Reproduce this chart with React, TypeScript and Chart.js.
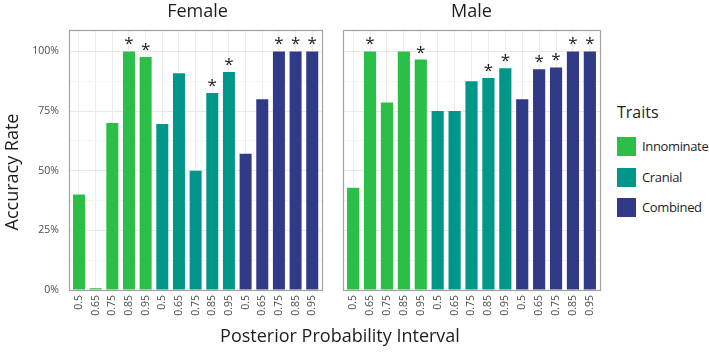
import React, { useEffect, useRef } from "react";
import { Chart, registerables } from "chart.js";

Chart.register(...registerables);

// Posterior probability intervals, repeated for each trait group
const intervals = ["0.5", "0.65", "0.75", "0.85", "0.95"];
const traits = ["Innominate", "Cranial", "Combined"];
const traitColors = ["#2cbf47", "#01968a", "#303a86"];

// Accuracy rate (%) per bar: Innominate x5, Cranial x5, Combined x5
const femaleAccuracy = [40.0, 0.7, 70.0, 100, 97.7, 69.6, 90.9, 50.0, 82.6, 91.4, 57.1, 80.0, 100, 100, 100];
const maleAccuracy = [42.9, 100, 78.6, 100, 96.6, 75.0, 75.0, 87.5, 88.9, 93.0, 80.0, 92.5, 93.3, 100, 100];

// Bars flagged with an asterisk
const femaleSignificant = [false, false, false, true, true, false, false, false, true, true, false, false, true, true, true];
const maleSignificant = [false, true, false, false, true, false, false, false, true, true, false, true, true, true, true];

const yTicks = [0, 12.5, 25, 37.5, 50, 62.5, 75, 87.5, 100];

const FONT = "'Open Sans', 'Noto Sans', sans-serif";
const tickLabels = traits.flatMap(() => intervals);
const positions = tickLabels.map((_, i) => i + 1);

const panelDecor = (marks: boolean[]) => ({
  id: "panelDecor",
  afterDatasetsDraw(chart: any) {
    const { ctx, chartArea: a } = chart;
    const meta = chart.getDatasetMeta(0);
    ctx.save();
    ctx.font = `17px ${FONT}`;
    ctx.fillStyle = "#1e1e1e";
    ctx.textAlign = "center";
    ctx.textBaseline = "alphabetic";
    meta.data.forEach((bar: any, i: number) => {
      if (marks[i]) ctx.fillText("*", bar.x, bar.y - 2);
    });
    ctx.strokeStyle = "#a3a3a3";
    ctx.lineWidth = 1.2;
    ctx.strokeRect(
      Math.round(a.left) + 0.5,
      Math.round(a.top) + 0.5,
      Math.round(a.right - a.left),
      Math.round(a.bottom - a.top)
    );
    ctx.restore();
  },
});

type PanelProps = {
  values: number[];
  marks: boolean[];
  showY: boolean;
  left: number;
  width: number;
  padLeft: number;
  padRight: number;
};

function Panel({ values, marks, showY, left, width, padLeft, padRight }: PanelProps) {
  const ref = useRef<HTMLCanvasElement>(null);
  useEffect(() => {
    const chart = new Chart(ref.current!, {
      type: "bar",
      data: {
        datasets: [
          {
            data: values.map((v, i) => ({ x: positions[i], y: v })),
            backgroundColor: values.map((_, i) => traitColors[Math.floor(i / intervals.length)]),
            barPercentage: 0.72,
            categoryPercentage: 1,
          },
        ],
      },
      options: {
        responsive: false,
        maintainAspectRatio: false,
        animation: false,
        layout: { padding: { top: 30, left: padLeft, right: padRight, bottom: 0 } },
        plugins: { legend: { display: false }, tooltip: { enabled: false }, title: { display: false } },
        scales: {
          x: {
            type: "linear",
            min: 0.4,
            max: 15.6,
            offset: false,
            afterBuildTicks: (s: any) => {
              s.ticks = positions.map((v) => ({ value: v }));
            },
            afterFit: (s: any) => {
              s.height = 63;
            },
            ticks: {
              autoSkip: false,
              minRotation: 90,
              maxRotation: 90,
              padding: 5,
              color: "#4d4d4d",
              font: { family: FONT, size: 10.5 },
              callback: (_v: any, i: number) => tickLabels[i],
            },
            grid: { color: "#ebebeb", drawTicks: false, offset: false },
            border: { display: false },
          },
          y: {
            min: 0,
            max: 109,
            afterBuildTicks: (s: any) => {
              s.ticks = yTicks.map((v) => ({ value: v }));
            },
            afterFit: (s: any) => {
              s.width = showY ? 69 - padLeft : 0;
            },
            ticks: {
              display: showY,
              padding: 10,
              color: "#4d4d4d",
              font: { family: FONT, size: 10.5 },
              callback: (v: any) => (Number(v) % 25 === 0 ? `${v}%` : ""),
            },
            grid: {
              drawTicks: false,
              color: (c: any) => (c.tick && c.tick.value % 25 === 0 ? "#e9e9e9" : "#f4f4f4"),
            },
            border: { display: false },
          },
        },
      },
      plugins: [panelDecor(marks)],
    });
    return () => chart.destroy();
  }, []);
  return (
    <canvas
      ref={ref}
      width={width}
      height={353}
      style={{ position: "absolute", left, top: 0, width, height: 353 }}
    />
  );
}

export default function App() {
  return (
    <div
      style={{
        position: "absolute",
        left: 0,
        top: 0,
        width: 709,
        height: 353,
        background: "#fff",
        fontFamily: FONT,
        color: "#1e1e1e",
        overflow: "hidden",
      }}
    >
      <Panel values={femaleAccuracy} marks={femaleSignificant} showY={true} left={0} width={330} padLeft={0} padRight={4} />
      <Panel values={maleAccuracy} marks={maleSignificant} showY={false} left={330} width={280} padLeft={13} padRight={10} />

      <div style={{ position: "absolute", left: 69, top: -2, width: 257, height: 24, lineHeight: "24px", textAlign: "center", fontSize: 18 }}>
        Female
      </div>
      <div style={{ position: "absolute", left: 343, top: -2, width: 257, height: 24, lineHeight: "24px", textAlign: "center", fontSize: 18 }}>
        Male
      </div>

      <div
        style={{
          position: "absolute",
          left: 11 - 100,
          top: 172 - 12,
          width: 200,
          height: 24,
          lineHeight: "24px",
          textAlign: "center",
          fontSize: 18,
          transform: "rotate(-90deg)",
        }}
      >
        Accuracy Rate
      </div>

      <div style={{ position: "absolute", left: 140, top: 322, width: 400, height: 26, lineHeight: "26px", textAlign: "center", fontSize: 18 }}>
        Posterior Probability Interval
      </div>

      <div style={{ position: "absolute", left: 617, top: 100, height: 24, lineHeight: "24px", fontSize: 16 }}>Traits</div>
      {traits.map((t, i) => (
        <React.Fragment key={t}>
          <div
            style={{
              position: "absolute",
              left: 617,
              top: 137 + i * 30.5,
              width: 19,
              height: 19,
              background: traitColors[i],
            }}
          />
          <div
            style={{
              position: "absolute",
              left: 642,
              top: 137 + i * 30.5,
              height: 19,
              lineHeight: "19px",
              fontSize: 13,
              letterSpacing: -0.35,
              whiteSpace: "nowrap",
            }}
          >
            {t}
          </div>
        </React.Fragment>
      ))}
    </div>
  );
}
